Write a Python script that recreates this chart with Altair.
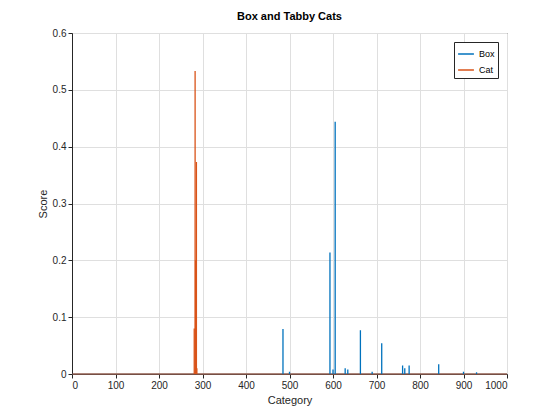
import altair as alt
import pandas as pd

# spike positions / heights
box_cat = [485, 500, 593, 600, 605, 628, 634, 663, 690, 712, 760, 765, 775, 843, 900, 930]
box_score = [0.079, 0.004, 0.214, 0.008, 0.444, 0.01, 0.008, 0.077, 0.004, 0.054, 0.015, 0.01, 0.015, 0.017, 0.004, 0.003]
cat_cat = [281, 283, 284, 286, 287]
cat_score = [0.08, 0.533, 0.2, 0.373, 0.01]

rows = [{'cat': c, 'score': s, 'series': 'Box'} for c, s in zip(box_cat, box_score)]
rows += [{'cat': c, 'score': s, 'series': 'Cat'} for c, s in zip(cat_cat, cat_score)]
df = pd.DataFrame(rows)
base_df = pd.DataFrame({'cat': [1, 1000, 1, 1000], 'y': [0, 0, 0, 0],
                        'series': ['Box', 'Box', 'Cat', 'Cat']})

color = alt.Color('series:N', scale=alt.Scale(domain=['Box', 'Cat'], range=['#0072BD', '#D95319']),
                  legend=alt.Legend(title=None, orient='top-right', symbolType='stroke',
                                    symbolStrokeWidth=1.5, symbolSize=250, labelFontSize=9,
                                    strokeColor='#262626', fillColor='white', padding=3,
                                    rowPadding=2, offset=9, labelFont='Liberation Sans'))

x = alt.X('cat:Q', scale=alt.Scale(domain=[0, 1000], nice=False), title='Category',
          axis=alt.Axis(values=list(range(0, 1001, 100)), format='d'))
y = alt.Y('score:Q', scale=alt.Scale(domain=[0, 0.6], nice=False), title='Score',
          axis=alt.Axis(values=[0, 0.1, 0.2, 0.3, 0.4, 0.5, 0.6],
                        labelExpr="datum.value == 0 ? '0' : format(datum.value, '.1f')"))

spikes = alt.Chart(df).mark_rule(strokeWidth=1.3).encode(x=x, y=y, y2=alt.datum(0), color=color)
baseline = alt.Chart(base_df).mark_line(strokeWidth=1).encode(
    x='cat:Q', y=alt.Y('y:Q'), color=color, detail='series:N')

chart = (baseline + spikes).properties(
    width=435, height=341,
    title=alt.Title('Box and Tabby Cats', fontSize=11, fontWeight='bold', font='Liberation Sans', offset=6),
    autosize=alt.AutoSizeParams(type='none'),
    padding={'left': 64, 'top': 25, 'right': 45, 'bottom': 38},
).configure_axis(
    grid=True, gridColor='#dfdfdf', domainColor='#262626', tickColor='#262626',
    labelFont='Liberation Sans', titleFont='Liberation Sans', labelFontSize=10,
    titleFontSize=11, titleFontWeight='normal', labelColor='#262626', titleColor='#262626',
    tickSize=4,
).configure_view(stroke='#262626', strokeWidth=1)

chart.save("out.html", embed_options={"renderer": "svg", "actions": False})
